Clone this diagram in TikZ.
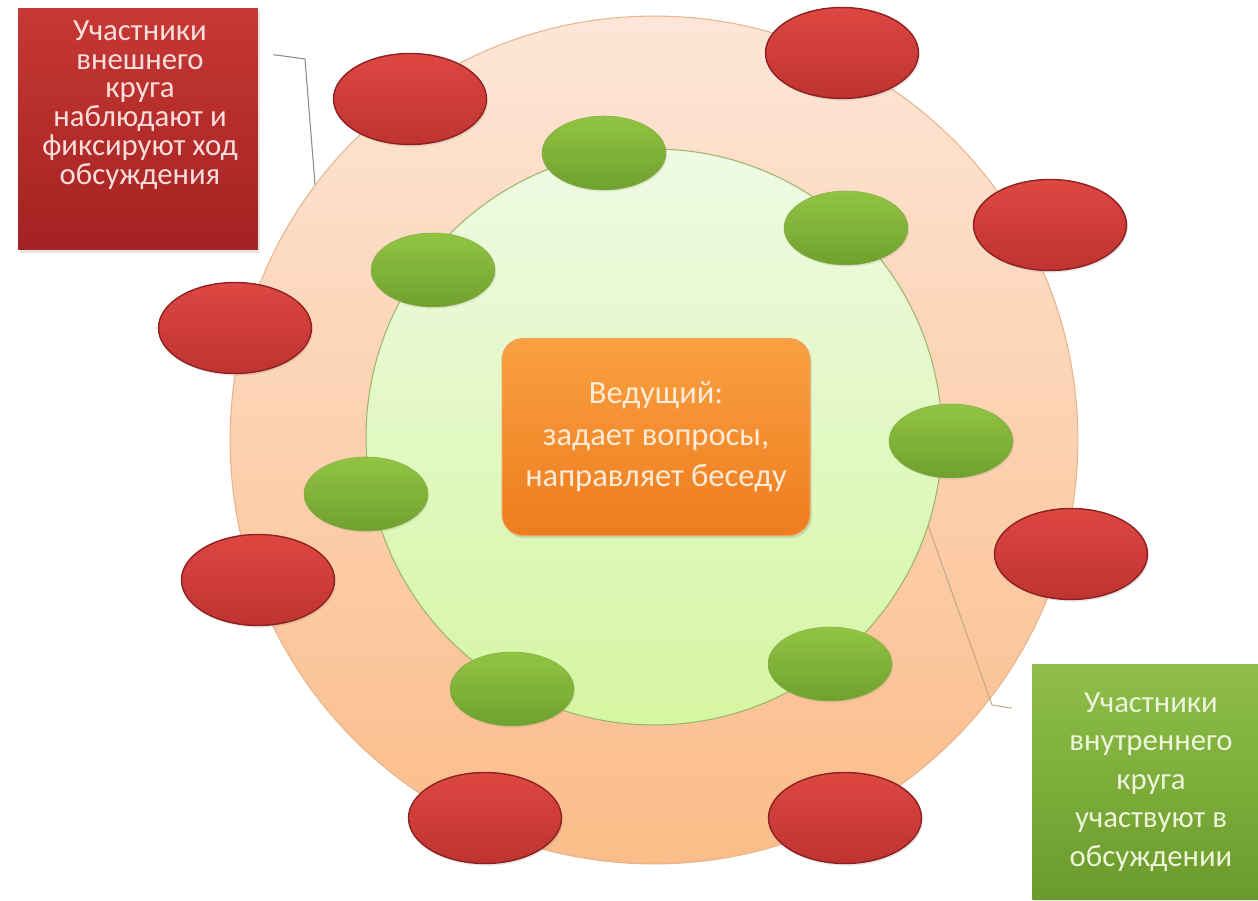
\documentclass[tikz,border=0pt]{standalone}
\usepackage{fontspec}
\setmainfont{Carlito}
\usetikzlibrary{positioning,shapes.geometric,shadows,calc}

\definecolor{peachtop}{HTML}{FDE6D8}
\definecolor{peachbottom}{HTML}{FBBC88}
\definecolor{peachrim}{HTML}{E6B48E}
\definecolor{limetop}{HTML}{EFFAE4}
\definecolor{limebottom}{HTML}{D5F6A2}
\definecolor{limerim}{HTML}{9DB46A}
\definecolor{redtop}{HTML}{DE4742}
\definecolor{redbottom}{HTML}{BE3330}
\definecolor{redrim}{HTML}{8E2222}
\definecolor{greentop}{HTML}{92C443}
\definecolor{greenbottom}{HTML}{70A02E}
\definecolor{greenrim}{HTML}{86AE48}
\definecolor{hosttop}{HTML}{F9A040}
\definecolor{hostbottom}{HTML}{EE7C1F}
\definecolor{hostrim}{HTML}{EBA35A}
\definecolor{hosttext}{HTML}{FEEBD8}
\definecolor{notered}{HTML}{C63834}
\definecolor{notereddark}{HTML}{A32222}
\definecolor{noteredtext}{HTML}{FBDEDC}
\definecolor{notegreen}{HTML}{8FBF49}
\definecolor{notegreendark}{HTML}{6A9A2B}
\definecolor{notegreentext}{HTML}{EEF5DC}
\definecolor{leadgray}{HTML}{8A8A8A}
\definecolor{leadtan}{HTML}{C2AA88}

\begin{document}
\begin{tikzpicture}[x=0.02cm, y=-0.02cm,
    outerseat/.style={ellipse, minimum width=3.06cm, minimum height=1.82cm,
      draw=redrim, line width=0.8pt, top color=redtop, bottom color=redbottom,
      drop shadow={opacity=0.2, shadow xshift=0.8pt, shadow yshift=-1.2pt}},
    innerseat/.style={ellipse, minimum width=2.48cm, minimum height=1.48cm,
      draw=greenrim, line width=0.3pt, top color=greentop, bottom color=greenbottom,
      drop shadow={opacity=0.15, shadow xshift=0.6pt, shadow yshift=-1pt}},
    notebox/.style={rectangle, draw=none, inner sep=0pt,
      drop shadow={opacity=0.2, shadow xshift=1pt, shadow yshift=-1.5pt}},
    leadline/.style={line width=0.6pt}]

    \useasboundingbox (0,0) rectangle (1258,901);

    \node [circle, minimum size=16.96cm, draw=peachrim, line width=0.6pt,
      top color=peachtop, bottom color=peachbottom] (outerRing) at (654,440) {};
    \node [circle, minimum size=11.52cm, draw=limerim, line width=0.6pt,
      top color=limetop, bottom color=limebottom] (innerRing) at (654,437) {};

    \node [outerseat] (seatA) at (410,99) {};
    \node [outerseat] (seatB) at (842,53) {};
    \node [outerseat] (seatC) at (1050,225) {};
    \node [outerseat] (seatD) at (1071,554) {};
    \node [outerseat] (seatE) at (845,818) {};
    \node [outerseat] (seatF) at (485,818) {};
    \node [outerseat] (seatG) at (258,580) {};
    \node [outerseat] (seatH) at (235,328) {};

    \node [innerseat] (chairA) at (604,153) {};
    \node [innerseat] (chairB) at (846,228) {};
    \node [innerseat] (chairC) at (951,441) {};
    \node [innerseat] (chairD) at (830,664) {};
    \node [innerseat] (chairE) at (512,689) {};
    \node [innerseat] (chairF) at (366,494) {};
    \node [innerseat] (chairG) at (433,270) {};

    \node [rectangle, rounded corners=12pt, minimum width=6.16cm, minimum height=3.94cm,
      draw=hostrim, line width=0.6pt, top color=hosttop, bottom color=hostbottom,
      drop shadow={opacity=0.25, shadow xshift=1pt, shadow yshift=-1.5pt},
      text=hosttext, align=center, font=\fontsize{18.5}{23.6}\selectfont]
      (host) at (656,437) {Ведущий:\\задает вопросы,\\направляет беседу};

    \node [notebox, minimum width=4.8cm, minimum height=4.84cm,
      top color=notered, bottom color=notereddark] (outerNote) at (138,129) {};
    \node [text=noteredtext, align=center, font=\fontsize{17.5}{16.4}\selectfont]
      (outerNoteText) at (140,105)
      {Участники\\внешнего\\круга\\наблюдают и\\фиксируют ход\\обсуждения};

    \node [notebox, minimum width=4.76cm, minimum height=4.7cm,
      top color=notegreen, bottom color=notegreendark,
      text=notegreentext, align=center, font=\fontsize{17.5}{22}\selectfont]
      (innerNote) at (1151,782)
      {Участники\\внутреннего\\круга\\участвуют в\\обсуждении};

    \coordinate (outerElbow) at (305,59);
    \coordinate (innerElbow) at (992,705);
    \draw [leadline, draw=leadgray] ($(outerNote.north east)+(15,47)$)
      -- (outerElbow) -- (outerRing.143);
    \draw [leadline, draw=leadtan] ($(innerNote.north west)+(-20,44)$)
      -- (innerElbow) -- (innerRing.-18);
\end{tikzpicture}
\end{document}
